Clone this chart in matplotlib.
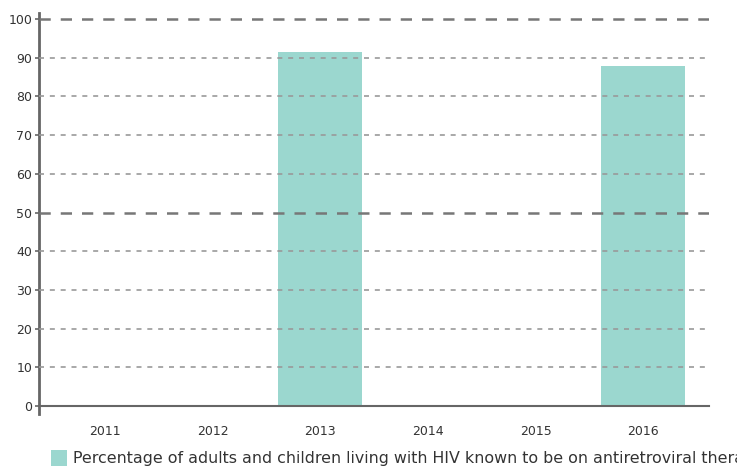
import matplotlib
matplotlib.use("Agg")
import matplotlib.pyplot as plt
from matplotlib.patches import Rectangle

years = ["2011", "2012", "2013", "2014", "2015", "2016"]
values = [None, None, 91.6, None, None, 87.9]
yticks = [0, 10, 20, 30, 40, 50, 60, 70, 80, 90, 100]
legend_label = "Percentage of adults and children living with HIV known to be on antiretroviral therapy"

bar_color = "#9bd7cf"
text_color = "#333333"

fig = plt.figure(figsize=(7.37, 4.68), dpi=100)
W, H = 737, 468
ax = fig.add_axes([39 / W, 1 - 406 / H, (709 - 39) / W, (406 - 13) / H])

xs = list(range(len(years)))
for x, v in zip(xs, values):
    if v is not None:
        ax.bar(x, v, width=0.78, color=bar_color, zorder=1)

ax.set_xlim(-0.611, len(years) - 1 + 0.611)

for t in yticks:
    if t == 0:
        continue
    major = t in (50, 100)
    ax.axhline(t, color="#777777" if major else "#999999",
               lw=1.8 if major else 1.2,
               dashes=(4.5, 4) if major else (3, 3.5), zorder=3)

ax.set_yticks(yticks)
ax.set_xticks(xs)
ax.set_xticklabels(years)
ax.tick_params(axis="y", length=3, width=1.2, color="#666666", labelsize=9, labelcolor=text_color, pad=2)
ax.tick_params(axis="x", length=0, labelsize=9, labelcolor=text_color, pad=14)

for s in ["top", "right"]:
    ax.spines[s].set_visible(False)
ax.spines["left"].set_color("#666666")
ax.spines["left"].set_linewidth(2)
ax.spines["bottom"].set_color("#666666")
ax.spines["bottom"].set_linewidth(1.5)
ax.set_ylim(0, 100 * 393 / 387)
ax.spines["left"].set_bounds(-2, 100 * 393 / 387)

# legend
fig.patches.append(Rectangle((51 / W, 1 - 466 / H), 16 / W, 16 / H,
                             transform=fig.transFigure, facecolor=bar_color,
                             edgecolor="none"))
fig.text(73 / W, 1 - 458 / H, legend_label, fontsize=11.4, color=text_color,
         va="center", ha="left")

fig.savefig("out.png", dpi=100)
